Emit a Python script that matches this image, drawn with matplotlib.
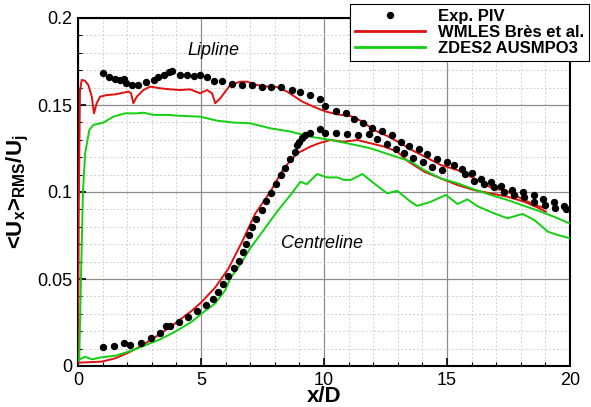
import matplotlib
matplotlib.use("Agg")
import matplotlib.pyplot as plt
from matplotlib.ticker import MultipleLocator, FixedLocator
from matplotlib.lines import Line2D

plt.rcParams['font.family'] = ['Liberation Sans', 'DejaVu Sans']
plt.rcParams['mathtext.fontset'] = 'custom'
plt.rcParams['mathtext.rm'] = 'Liberation Sans:bold'
plt.rcParams['mathtext.it'] = 'Liberation Sans:bold'
plt.rcParams['mathtext.bf'] = 'Liberation Sans:bold'

# ---- Experimental PIV (lipline) ----
piv_lip_x = [1.0, 1.24, 1.51, 1.71, 1.85, 1.96, 2.19, 2.43, 2.76, 3.07, 3.27, 3.48, 3.68, 3.82,
             4.15, 4.43, 4.70, 4.97, 5.24, 5.51, 5.85, 6.26, 6.67, 7.07, 7.48, 7.85, 8.26, 8.68,
             9.04, 9.42, 9.83, 10.06, 10.47, 10.88, 11.22, 11.6, 11.96, 12.37, 12.78, 13.12,
             13.45, 13.86, 14.2, 14.58, 14.99, 15.29, 15.63, 16.03, 16.37, 16.78, 17.19, 17.66,
             18.07, 18.52, 18.89, 19.34, 19.74]
piv_lip_y = [0.1686, 0.1663, 0.1648, 0.1644, 0.1651, 0.1628, 0.1615, 0.1615, 0.1632, 0.1644, 0.1663,
             0.1674, 0.1690, 0.1697, 0.1671, 0.1671, 0.1667, 0.1671, 0.1659, 0.1640, 0.1636, 0.1621,
             0.1615, 0.1613, 0.1606, 0.1606, 0.1606, 0.1586, 0.1573, 0.1557, 0.1533, 0.1494, 0.1468,
             0.1452, 0.1420, 0.1399, 0.1366, 0.1352, 0.1328, 0.1289, 0.1264, 0.1245, 0.1218, 0.1188,
             0.1172, 0.1155, 0.1130, 0.1107, 0.1073, 0.1059, 0.1034, 0.1011, 0.1002, 0.0983, 0.0958,
             0.0944, 0.0920]

# ---- Experimental PIV (centreline) ----
piv_cl_x = [1.03, 1.48, 1.87, 2.12, 2.55, 2.97, 3.34, 3.57, 3.75, 4.09, 4.49, 4.83, 5.2, 5.49,
            5.69, 5.88, 6.1, 6.35, 6.53, 6.69, 6.84, 6.97, 7.09, 7.25, 7.48, 7.66, 7.85, 8.05,
            8.26, 8.43, 8.61, 8.81, 8.91, 9.0, 9.11, 9.22, 9.45, 9.83, 10.06, 10.47, 10.94,
            11.38, 11.83, 12.16, 12.57, 12.91, 13.25, 13.63, 14.03, 14.41, 14.81, 15.72, 16.1,
            16.49, 16.92, 17.33, 17.73, 18.14, 18.55, 18.98, 19.39, 19.84]
piv_cl_y = [0.0107, 0.0117, 0.0130, 0.0121, 0.0134, 0.0159, 0.0188, 0.0232, 0.0232, 0.0255, 0.0284,
            0.0316, 0.0351, 0.0385, 0.0427, 0.0471, 0.0517, 0.0561, 0.0605, 0.0653, 0.0701, 0.0753,
            0.0801, 0.0846, 0.0897, 0.0948, 0.0992, 0.1046, 0.1098, 0.1140, 0.1188, 0.1228, 0.1270,
            0.1289, 0.1312, 0.1328, 0.1341, 0.1362, 0.1337, 0.1341, 0.1333, 0.1328, 0.1333, 0.1305,
            0.1276, 0.1245, 0.1222, 0.1193, 0.1174, 0.1145, 0.1126, 0.1103, 0.1065, 0.1046, 0.1026,
            0.1002, 0.0983, 0.0973, 0.0944, 0.0925, 0.0906, 0.0900]

# ---- WMLES Bres et al. (lipline) ----
wm_lip_x = [0.0, 0.03, 0.08, 0.15, 0.28, 0.42, 0.56, 0.65, 0.76, 0.9, 1.17, 1.51, 1.71, 2.05, 2.16,
            2.25, 2.39, 2.66, 2.93, 3.34, 3.75, 4.15, 4.56, 4.97, 5.24, 5.45, 5.58, 5.78, 6.19,
            6.6, 6.87, 7.28, 7.69, 8.09, 8.5, 9.11, 9.58, 10.06, 10.54, 11.08, 11.56, 12.03,
            12.57, 13.12, 13.52, 14.07, 14.75, 15.43, 16.1, 16.78, 17.46, 18.14, 18.68, 19.02]
wm_lip_y = [0.003, 0.09, 0.158, 0.1644, 0.1640, 0.1615, 0.1548, 0.1452, 0.151, 0.1548, 0.1557, 0.1561,
            0.1567, 0.1577, 0.1567, 0.151, 0.1548, 0.1586, 0.1606, 0.1596, 0.1590, 0.1586, 0.1590,
            0.1567, 0.1586, 0.1567, 0.151, 0.1538, 0.1615, 0.1634, 0.1634, 0.1615, 0.1606, 0.1603,
            0.1577, 0.152, 0.149, 0.1463, 0.1446, 0.1437, 0.1405, 0.1356, 0.1322, 0.128, 0.1245,
            0.1205, 0.1155, 0.1126, 0.1078, 0.1026, 0.1002, 0.0954, 0.0920, 0.0906]

# ---- WMLES Bres et al. (centreline) ----
wm_cl_x = [0.0, 0.96, 1.51, 2.05, 2.59, 3.27, 3.95, 4.63, 5.04, 5.58, 6.12, 6.67, 7.21, 7.82, 8.36,
           8.91, 9.45, 9.79, 10.26, 10.81, 11.35, 11.89, 12.44, 12.98, 13.38, 14.07, 14.75,
           15.43, 16.1, 16.78, 17.46, 18.14, 18.68, 19.02]
wm_cl_y = [0.0019, 0.0025, 0.0044, 0.0077, 0.0117, 0.0178, 0.0245, 0.0318, 0.037, 0.0452, 0.0561,
           0.0714, 0.0877, 0.1002, 0.1136, 0.1222, 0.1261, 0.128, 0.1299, 0.1289, 0.1299, 0.128,
           0.1261, 0.1232, 0.1180, 0.1117, 0.1078, 0.104, 0.1011, 0.0992, 0.0973, 0.0944, 0.0911,
           0.0887]

# ---- ZDES2 AUSMPO3 (lipline) ----
zd_lip_x = [0.05, 0.12, 0.2, 0.29, 0.46, 0.62, 1.03, 1.44, 1.91, 2.39, 2.66, 3.07, 3.61, 4.29,
            4.97, 5.65, 6.33, 7.0, 7.82, 8.64, 9.45, 10.26, 11.08, 11.89, 12.71, 13.52, 14.07,
            14.75, 15.43, 16.1, 16.78, 17.46, 18.14, 18.82, 19.5, 20.0]
zd_lip_y = [0.003, 0.05, 0.10, 0.1222, 0.1356, 0.1385, 0.1399, 0.1433, 0.1452, 0.1452, 0.1456, 0.1443,
            0.1443, 0.1437, 0.1433, 0.141, 0.1399, 0.1395, 0.1366, 0.1347, 0.1318, 0.1299, 0.1276,
            0.1251, 0.1213, 0.1176, 0.1126, 0.1078, 0.105, 0.1015, 0.0983, 0.0954, 0.092, 0.0887,
            0.0849, 0.0818]

# ---- ZDES2 AUSMPO3 (centreline) ----
zd_cl_x = [0.0, 0.29, 0.56, 0.96, 1.51, 2.05, 2.59, 3.27, 3.95, 4.63, 5.04, 5.58, 5.99, 6.19, 6.67,
           7.0, 7.55, 8.09, 8.64, 9.04, 9.3, 9.72, 10.13, 10.54, 10.8, 11.08, 11.56, 12.03, 12.57,
           12.98, 13.52, 13.79, 14.34, 14.95, 15.43, 15.83, 16.24, 16.92, 17.46, 18.07, 18.55,
           19.1, 19.5, 20.0]
zd_cl_y = [0.0034, 0.0053, 0.0038, 0.0050, 0.0059, 0.0082, 0.0111, 0.0149, 0.0197, 0.0255, 0.0303,
           0.036, 0.0437, 0.0503, 0.0599, 0.0676, 0.0782, 0.0887, 0.0983, 0.1059, 0.1045, 0.1103,
           0.1084, 0.1084, 0.1070, 0.1069, 0.1103, 0.105, 0.0992, 0.1007, 0.0944, 0.092, 0.0944,
           0.0983, 0.0931, 0.0958, 0.0918, 0.0877, 0.0849, 0.0874, 0.0839, 0.0772, 0.0753, 0.0734]

labels = ['Exp. PIV', 'WMLES Brès et al.', 'ZDES2 AUSMPO3']
red = '#e01010'
green = '#10d010'

fig = plt.figure(figsize=(5.91, 4.07), dpi=100)
ax = fig.add_axes([78/591, 1-366/407, (570-78)/591, (366-18)/407])

ax.plot(wm_lip_x, wm_lip_y, color=red, lw=1.4, zorder=3)
ax.plot(wm_cl_x, wm_cl_y, color=red, lw=1.4, zorder=3)
ax.plot(zd_lip_x, zd_lip_y, color=green, lw=1.4, zorder=3)
ax.plot(zd_cl_x, zd_cl_y, color=green, lw=1.4, zorder=3)
ax.plot(piv_lip_x, piv_lip_y, 'o', color='black', ms=4.3, zorder=4)
ax.plot(piv_cl_x, piv_cl_y, 'o', color='black', ms=4.3, zorder=4)

ax.set_xlim(0, 20)
ax.set_ylim(0, 0.2)
ax.xaxis.set_major_locator(FixedLocator([0, 5, 10, 15, 20]))
ax.yaxis.set_major_locator(FixedLocator([0, 0.05, 0.1, 0.15, 0.2]))
ax.set_xticklabels(['0', '5', '10', '15', '20'])
ax.set_yticklabels(['0', '0.05', '0.1', '0.15', '0.2'])
ax.xaxis.set_minor_locator(MultipleLocator(1))
ax.yaxis.set_minor_locator(MultipleLocator(0.01))
ax.grid(True, which='major', color='#8c8c8c', lw=0.9, ls='-', zorder=0)
ax.grid(True, which='minor', color='#d0d0d0', lw=0.7, ls=(0, (2, 2)), zorder=0)
ax.set_axisbelow(True)
ax.tick_params(which='major', direction='in', length=6, width=1.2, labelsize=13,
               top=False, right=False, pad=4)
ax.tick_params(which='minor', direction='in', length=3, width=0.8, top=False, right=False)
for s in ax.spines.values():
    s.set_linewidth(1.5)

ax.set_xlabel('x/D', fontsize=16, fontweight='bold', labelpad=-2)
ax.set_ylabel(r'<U$_x$>$_{RMS}$/U$_j$', fontsize=16, fontweight='bold')
ax.yaxis.set_label_coords(-0.095, 0.5)

ax.text(5.5, 0.1815, 'Lipline', fontsize=13, style='italic', ha='center', va='center')
ax.text(9.9, 0.0705, 'Centreline', fontsize=13, style='italic', ha='center', va='center')

handles = [Line2D([], [], ls='none', marker='o', color='black', ms=4.3),
           Line2D([], [], color=red, lw=2),
           Line2D([], [], color=green, lw=2)]
leg = fig.legend(handles, labels, loc='upper left', bbox_to_anchor=(350/591, 1-4/407),
                 frameon=True, fancybox=False, edgecolor='black', framealpha=1,
                 prop={'weight': 'bold', 'size': 12}, handlelength=4.2, handletextpad=0.8,
                 labelspacing=0.05, borderpad=0.3, borderaxespad=0)
leg.get_frame().set_linewidth(0.8)

fig.savefig('out.png', dpi=100)
